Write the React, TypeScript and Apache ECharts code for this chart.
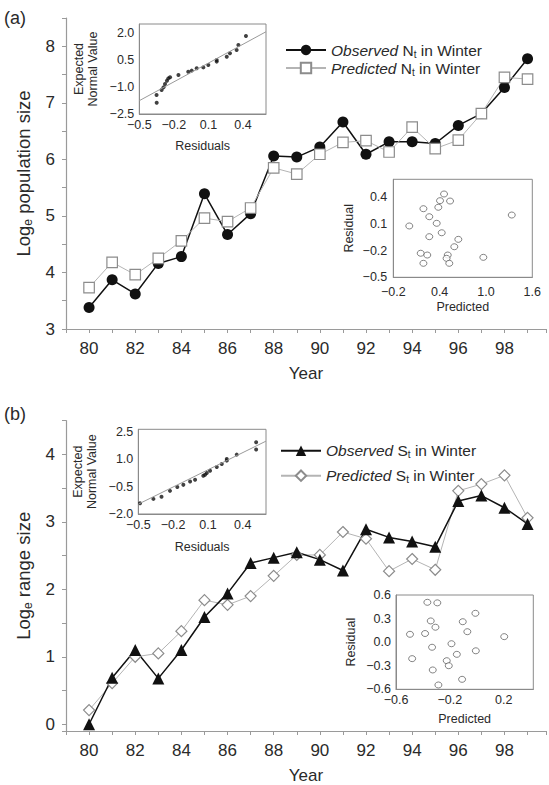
import React, { useEffect, useRef } from 'react';
import * as echarts from 'echarts';

// ---------- data ----------
const years = [80, 81, 82, 83, 84, 85, 86, 87, 88, 89, 90, 91, 92, 93, 94, 95, 96, 97, 98, 99];
const obsN = [3.38, 3.87, 3.62, 4.16, 4.28, 5.39, 4.67, 5.04, 6.06, 6.04, 6.22, 6.66, 6.09, 6.31, 6.31, 6.28, 6.6, 6.81, 7.27, 7.78];
const predN = [3.73, 4.18, 3.96, 4.25, 4.56, 4.96, 4.9, 5.14, 5.85, 5.74, 6.09, 6.3, 6.33, 6.13, 6.57, 6.19, 6.34, 6.81, 7.45, 7.42];
const obsS = [0.0, 0.69, 1.1, 0.68, 1.1, 1.59, 1.94, 2.39, 2.47, 2.55, 2.44, 2.28, 2.89, 2.77, 2.71, 2.63, 3.31, 3.39, 3.21, 2.97];
const predS = [0.21, 0.61, 1.0, 1.05, 1.38, 1.84, 1.77, 1.9, 2.2, 2.51, 2.51, 2.85, 2.75, 2.27, 2.45, 2.29, 3.46, 3.56, 3.69, 3.06];

const qqResA = [-0.349, -0.35, -0.306, -0.29, -0.277, -0.26, -0.248, -0.233, -0.16, -0.075, -0.045, -0.002, 0.056, 0.099, 0.172, 0.172, 0.259, 0.287, 0.345, 0.36, 0.426];
const qqExpA = [-1.87, -1.44, -1.17, -1.02, -0.83, -0.65, -0.52, -0.46, -0.33, -0.15, -0.09, 0.04, 0.09, 0.22, 0.41, 0.5, 0.68, 0.87, 1.06, 1.33, 1.83];
const qqLineA = [[-0.5, -1.76], [0.6, 2.07]];

const predA = [0.007, 0.19, 0.266, 0.362, 0.383, 0.405, 0.457, 0.535, 0.427, 0.266, 0.642, 0.59, 0.155, 0.24, 0.19, 0.505, 0.49, 0.525, 0.966, 1.334];
const resA = [0.076, 0.27, 0.18, 0.106, 0.286, 0.36, 0.435, 0.356, 0.0, -0.044, -0.074, -0.157, -0.23, -0.25, -0.343, -0.25, -0.287, -0.343, -0.276, 0.199];

const qqResB = [-0.485, -0.37, -0.3, -0.227, -0.164, -0.112, -0.054, -0.011, 0.06, 0.075, 0.09, 0.118, 0.176, 0.219, 0.262, 0.262, 0.348, 0.515, 0.515];
const qqExpB = [-1.41, -1.17, -1.05, -0.73, -0.52, -0.4, -0.22, -0.12, 0.1, 0.15, 0.25, 0.38, 0.58, 0.75, 0.93, 1.02, 1.26, 1.94, 1.54];
const qqLineB = [[-0.5, -1.46], [0.6, 2.0]];

const predB = [-0.367, -0.293, -0.01, -0.342, -0.104, -0.307, -0.07, -0.496, -0.384, 0.204, -0.188, -0.332, -0.007, -0.148, -0.48, -0.223, -0.208, -0.327, -0.109, -0.285];
const resB = [0.507, 0.5, 0.367, 0.27, 0.26, 0.19, 0.133, 0.1, 0.11, 0.07, -0.02, -0.065, -0.11, -0.155, -0.21, -0.236, -0.3, -0.354, -0.473, -0.545];

const NAME_OBS_N = 'Observed Nt in Winter';
const NAME_PRED_N = 'Predicted Nt in Winter';
const NAME_OBS_S = 'Observed St in Winter';
const NAME_PRED_S = 'Predicted St in Winter';

// ---------- styling ----------
const FONT = '"Liberation Sans", Arial, Helvetica, sans-serif';
const TXT = '#2a2a2a';
const AX = '#9a9a9a';

const isInt = (v: number) => Math.abs(v - Math.round(v)) < 1e-6;
const fmt1 = (v: number) => (Math.round(v * 10) / 10).toFixed(1).replace('-', '\u2212');

const mainX = (gridIndex: number) => ({
  type: 'value', gridIndex, min: 79, max: 99.8, interval: 1,
  axisLine: { show: true, onZero: false, lineStyle: { color: AX, width: 1.2 } },
  axisTick: { show: true, length: 4, lineStyle: { color: AX } },
  splitLine: { show: false },
  axisLabel: {
    margin: 11, fontSize: 17, color: TXT, fontFamily: FONT,
    formatter: (v: number) => (isInt(v) && Math.round(v) % 2 === 0 ? String(Math.round(v)) : ''),
  },
  name: 'Year', nameLocation: 'middle', nameGap: 36,
  nameTextStyle: { fontSize: 17, color: TXT, fontFamily: FONT },
});

const mainYBase = {
  type: 'value',
  axisLine: { show: true, onZero: false, lineStyle: { color: AX, width: 1.2 } },
  axisTick: { show: true, length: 4, lineStyle: { color: AX } },
  splitLine: { show: false },
  axisLabel: {
    margin: 11, fontSize: 17, color: TXT, fontFamily: FONT,
    formatter: (v: number) => (isInt(v) && v > -0.05 ? String(Math.round(v)) : ''),
  },
  nameLocation: 'middle', nameRotate: 90, nameGap: 32,
  nameTextStyle: {
    color: TXT, fontFamily: FONT,
    rich: {
      n: { fontSize: 18.5, color: TXT, fontFamily: FONT, lineHeight: 22 },
      s: { fontSize: 12, color: TXT, fontFamily: FONT, lineHeight: 12, verticalAlign: 'bottom' },
    },
  },
};

const insetAxis = (gridIndex: number, min: number, max: number, interval: number, name: string, nameGap: number, isY: boolean, showMax: boolean, margin: number) => ({
  type: 'value', gridIndex, min, max, interval,
  axisLine: { show: true, onZero: false, lineStyle: { color: '#8a8a8a', width: 1 } },
  axisTick: { show: false },
  splitLine: { show: false },
  axisLabel: {
    margin, fontSize: 12.5, lineHeight: 12, color: TXT, fontFamily: FONT,
    showMaxLabel: showMax, showMinLabel: true, hideOverlap: false,
    formatter: (v: number) => fmt1(v),
  },
  name, nameLocation: 'middle', nameGap, nameRotate: isY ? 90 : 0,
  nameTextStyle: { fontSize: 12.5, color: TXT, fontFamily: FONT, lineHeight: 14 },
});

const legendRich = {
  i: { fontStyle: 'italic', fontSize: 15.5, color: TXT, fontFamily: FONT, lineHeight: 18 },
  r: { fontSize: 15.5, color: TXT, fontFamily: FONT, lineHeight: 18 },
  s: { fontSize: 10, color: TXT, fontFamily: FONT, lineHeight: 10, verticalAlign: 'bottom' },
};

const legendFmt = (name: string) => {
  const parts = name.split(' ');
  const letter = parts[1].charAt(0);
  return `{i|${parts[0]} }{r|${letter}}{s|t}{r| in Winter}`;
};

const pairs = (xs: number[], ys: number[]) => xs.map((x, i) => [x, ys[i]]);

export default function App() {
  const ref = useRef<HTMLDivElement>(null);
  useEffect(() => {
    document.body.style.margin = '0';
    if (!ref.current) return;
    const chart = echarts.init(ref.current, undefined, { renderer: 'svg' });
    const option = {
      animation: false,
      backgroundColor: '#fff',
      grid: [
        { left: 66, top: 18, width: 482, height: 311 },
        { left: 139.3, top: 24, width: 126.7, height: 90, show: true, borderColor: '#8a8a8a', borderWidth: 1, backgroundColor: '#fff' },
        { left: 393.3, top: 179.3, width: 139, height: 98, show: true, borderColor: '#8a8a8a', borderWidth: 1, backgroundColor: '#fff' },
        { left: 66, top: 420.7, width: 482, height: 311 },
        { left: 138.3, top: 429.3, width: 127.7, height: 84.7, show: true, borderColor: '#8a8a8a', borderWidth: 1, backgroundColor: '#fff' },
        { left: 396, top: 595, width: 137.3, height: 94.3, show: true, borderColor: '#8a8a8a', borderWidth: 1, backgroundColor: '#fff' },
      ],
      xAxis: [
        mainX(0),
        insetAxis(1, -0.5, 0.6, 0.3, 'Residuals', 25, false, false, 5),
        insetAxis(2, -0.2, 1.6, 0.6, 'Predicted', 23, false, true, 9),
        mainX(3),
        insetAxis(4, -0.5, 0.6, 0.3, 'Residuals', 26, false, false, 5),
        insetAxis(5, -0.6, 0.42, 0.4, 'Predicted', 23, false, false, 5),
      ],
      yAxis: [
        { ...mainYBase, gridIndex: 0, min: 3, max: 8.5, interval: 0.5, name: '{n|Log}{s|e}{n| population size}' },
        insetAxis(1, -2.5, 2.5, 1.5, 'Expected\nNormal Value', 39, true, false, 5),
        insetAxis(2, -0.5, 0.6, 0.3, 'Residual', 37, true, false, 6),
        { ...mainYBase, gridIndex: 3, min: -0.1, max: 4.5, splitNumber: 9, minInterval: 0.5, maxInterval: 0.5, name: '{n|Log}{s|e}{n| range size}' },
        insetAxis(4, -2.0, 2.65, 1.5, 'Expected\nNormal Value', 39, true, false, 5),
        insetAxis(5, -0.6, 0.6, 0.3, 'Residual', 38, true, true, 5),
      ],
      legend: [
        {
          data: [NAME_OBS_N, NAME_PRED_N], orient: 'vertical', left: 280, top: 37,
          itemWidth: 40, itemHeight: 13, itemGap: 1, formatter: legendFmt,
          textStyle: { fontSize: 15.5, color: TXT, fontFamily: FONT, rich: legendRich },
        },
        {
          data: [NAME_OBS_S, NAME_PRED_S], orient: 'vertical', left: 275, top: 437.7,
          itemWidth: 40, itemHeight: 13, itemGap: 8, formatter: legendFmt,
          textStyle: { fontSize: 15.5, color: TXT, fontFamily: FONT, rich: legendRich },
        },
      ],
      graphic: [
        { type: 'text', left: 4, top: 9, style: { text: '(a)', fontSize: 18, fill: TXT, fontFamily: FONT } },
        { type: 'text', left: 4, top: 405, style: { text: '(b)', fontSize: 18, fill: TXT, fontFamily: FONT } },
      ],
      series: [
        {
          name: NAME_OBS_N, type: 'line', xAxisIndex: 0, yAxisIndex: 0, data: pairs(years, obsN),
          symbol: 'circle', symbolSize: 11, lineStyle: { color: '#111', width: 1.5 },
          itemStyle: { color: '#111' },
        },
        {
          name: NAME_PRED_N, type: 'line', xAxisIndex: 0, yAxisIndex: 0, data: pairs(years, predN),
          symbol: 'rect', symbolSize: 10.5, lineStyle: { color: '#b4b4b4', width: 1 },
          itemStyle: { color: '#fff', borderColor: '#8c8c8c', borderWidth: 1.2 },
        },
        {
          type: 'line', xAxisIndex: 1, yAxisIndex: 1, data: qqLineA, symbol: 'none',
          lineStyle: { color: '#9a9a9a', width: 1 }, silent: true,
        },
        {
          type: 'scatter', xAxisIndex: 1, yAxisIndex: 1, data: pairs(qqResA, qqExpA),
          symbol: 'circle', symbolSize: 4, itemStyle: { color: '#111' },
        },
        {
          type: 'scatter', xAxisIndex: 2, yAxisIndex: 2, data: pairs(predA, resA),
          symbol: 'circle', symbolSize: [7, 6], itemStyle: { color: '#fff', borderColor: '#555', borderWidth: 0.9 },
        },
        {
          name: NAME_PRED_S, type: 'line', xAxisIndex: 3, yAxisIndex: 3, data: pairs(years, predS),
          symbol: 'diamond', symbolSize: 11, lineStyle: { color: '#b4b4b4', width: 1 },
          itemStyle: { color: '#fff', borderColor: '#8c8c8c', borderWidth: 1.2 },
        },
        {
          name: NAME_OBS_S, type: 'line', xAxisIndex: 3, yAxisIndex: 3, data: pairs(years, obsS),
          symbol: 'triangle', symbolSize: 12, lineStyle: { color: '#111', width: 1.5 },
          itemStyle: { color: '#111' },
        },
        {
          type: 'line', xAxisIndex: 4, yAxisIndex: 4, data: qqLineB, symbol: 'none',
          lineStyle: { color: '#9a9a9a', width: 1 }, silent: true,
        },
        {
          type: 'scatter', xAxisIndex: 4, yAxisIndex: 4, data: pairs(qqResB, qqExpB),
          symbol: 'circle', symbolSize: 4, itemStyle: { color: '#111' },
        },
        {
          type: 'scatter', xAxisIndex: 5, yAxisIndex: 5, data: pairs(predB, resB),
          symbol: 'circle', symbolSize: [7, 6], itemStyle: { color: '#fff', borderColor: '#555', borderWidth: 0.9 },
        },
      ],
    };
    chart.setOption(option as any);
    return () => chart.dispose();
  }, []);
  return <div ref={ref} style={{ width: 549, height: 785 }} />;
}
